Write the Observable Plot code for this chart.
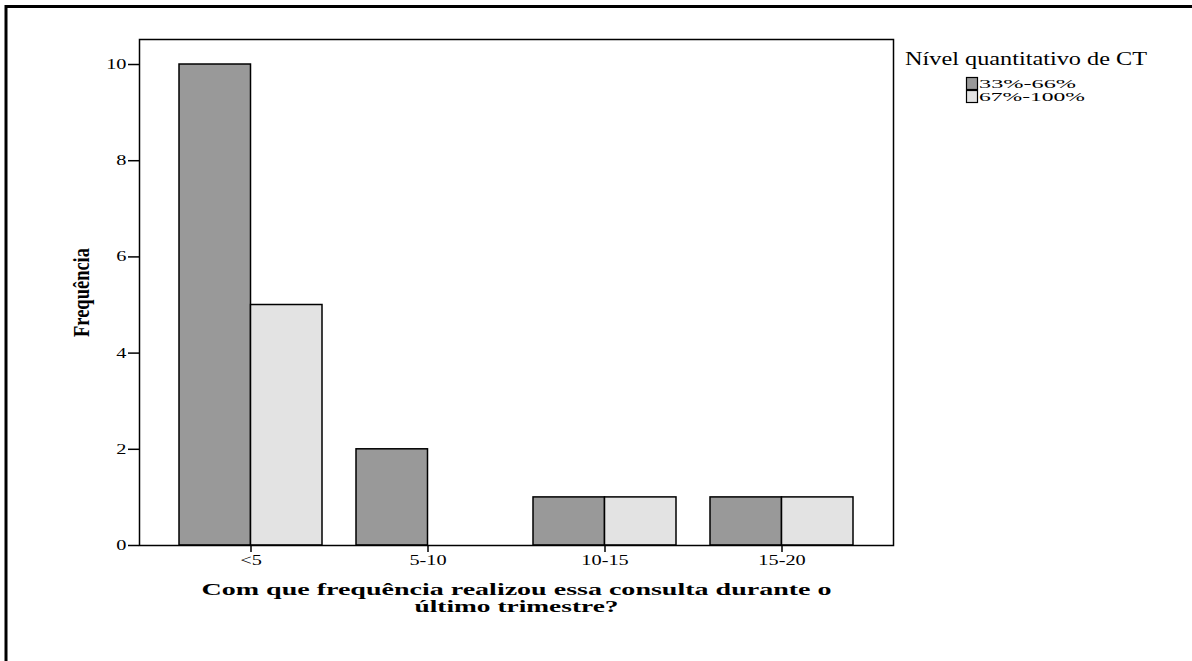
<!DOCTYPE html>
<html><head><meta charset="utf-8">
<script src="https://cdn.jsdelivr.net/npm/d3@7"></script>
<script src="https://cdn.jsdelivr.net/npm/@observablehq/plot@0.6"></script>
<style>
html,body{margin:0;padding:0;background:#fff;overflow:hidden;}
#chart{position:relative;width:1192px;height:661px;}
</style></head><body><div id="chart"></div>
<script>
// ---- data ----
const categories = ["<5", "5-10", "10-15", "15-20"];
const series = ["33%-66%", "67%-100%"];
const values33 = [10, 2, 1, 1];
const values67 = [5, 0, 1, 1];
const colors = ["#999999", "#e3e3e3"];
const yTicks = [0, 2, 4, 6, 8, 10];
const yLabel = "Frequência";
const xLabelLines = ["Com que frequência realizou essa consulta durante o", "último trimestre?"];
const legendTitle = "Nível quantitativo de CT";

const data = [];
categories.forEach((c, i) => {
  data.push({cat: c, series: series[0], value: values33[i]});
  data.push({cat: c, series: series[1], value: values67[i]});
});

const serif = "'Liberation Serif','Times New Roman',serif";

function build(half) {
  return Plot.plot({
    width: 1192, height: 661,
    marginLeft: 139, marginRight: 299, marginTop: 39, marginBottom: 116,
    style: {fontFamily: serif, fontSize: "14px", color: "black", background: "white"},
    x: {domain: categories, paddingInner: 0.191, paddingOuter: 0.2135, tickSize: 7, tickPadding: 3, label: null},
    y: {domain: [0, 10.52], ticks: yTicks, tickSize: 11, tickPadding: 2, label: null},
    color: {domain: series, range: colors},
    marks: [
      Plot.barY(data.filter(d => d.series === series[0] && d.value > 0),
        {x: "cat", y: "value", fill: "series", stroke: "black", strokeWidth: 1.5, insetRight: half}),
      Plot.barY(data.filter(d => d.series === series[1] && d.value > 0),
        {x: "cat", y: "value", fill: "series", stroke: "black", strokeWidth: 1.5, insetLeft: half}),
      Plot.frame({stroke: "black", strokeWidth: 1.5}),
      Plot.text([yLabel], {frameAnchor: "left", textAnchor: "middle", dx: -58, rotate: -90, text: d => d,
        fontWeight: "bold", fontSize: 23, fill: "black"}),
      Plot.text([xLabelLines[0]], {frameAnchor: "bottom", dy: 37, lineAnchor: "top", text: d => d,
        fontWeight: "bold", fontSize: 17, fill: "black"}),
      Plot.text([xLabelLines[1]], {frameAnchor: "bottom", dy: 54, lineAnchor: "top", text: d => d,
        fontWeight: "bold", fontSize: 17, fill: "black"})
    ]
  });
}

const probe = build(0);
const bw = probe.scale("x").bandwidth;
const chart = build(bw / 2);
document.getElementById("chart").appendChild(chart);

const svg = d3.select(chart);
function fit(el, w) {
  el.setAttribute("textLength", w);
  el.setAttribute("lengthAdjust", "spacingAndGlyphs");
}

// axis styling
svg.selectAll("g[aria-label*='axis'] line, g[aria-label*='axis'] path")
  .attr("stroke", "black").attr("stroke-width", 1.5);
svg.selectAll("g[aria-label*='axis'] text").each(function() {
  fit(this, this.getComputedTextLength() * 1.45);
});

// titles: stretch/condense to match
svg.selectAll("text").each(function() {
  const t = this.textContent;
  if (t === xLabelLines[0]) fit(this, 630);
  else if (t === xLabelLines[1]) fit(this, 204);
  else if (t === yLabel) fit(this, 89);
});

// outer border (left & top)
svg.append("line").attr("x1", 6).attr("x2", 6).attr("y1", 5).attr("y2", 661)
  .attr("stroke", "black").attr("stroke-width", 3);
svg.append("line").attr("x1", 5).attr("x2", 1192).attr("y1", 6.5).attr("y2", 6.5)
  .attr("stroke", "black").attr("stroke-width", 3);

// legend
const lg = svg.append("g").attr("font-family", serif).attr("text-anchor", "start").attr("fill", "black");
const tt = lg.append("text").attr("x", 905).attr("y", 65).attr("font-size", 18).text(legendTitle);
fit(tt.node(), 242);
series.forEach((s, i) => {
  lg.append("rect").attr("x", 966.5).attr("y", 77.5 + i * 13).attr("width", 11).attr("height", 12)
    .attr("fill", colors[i]).attr("stroke", "black").attr("stroke-width", 1.2);
  const lt = lg.append("text").attr("x", 979).attr("y", 88 + i * 13).attr("font-size", 12).text(s);
  fit(lt.node(), i === 0 ? 97 : 106);
});
</script>
</body></html>
